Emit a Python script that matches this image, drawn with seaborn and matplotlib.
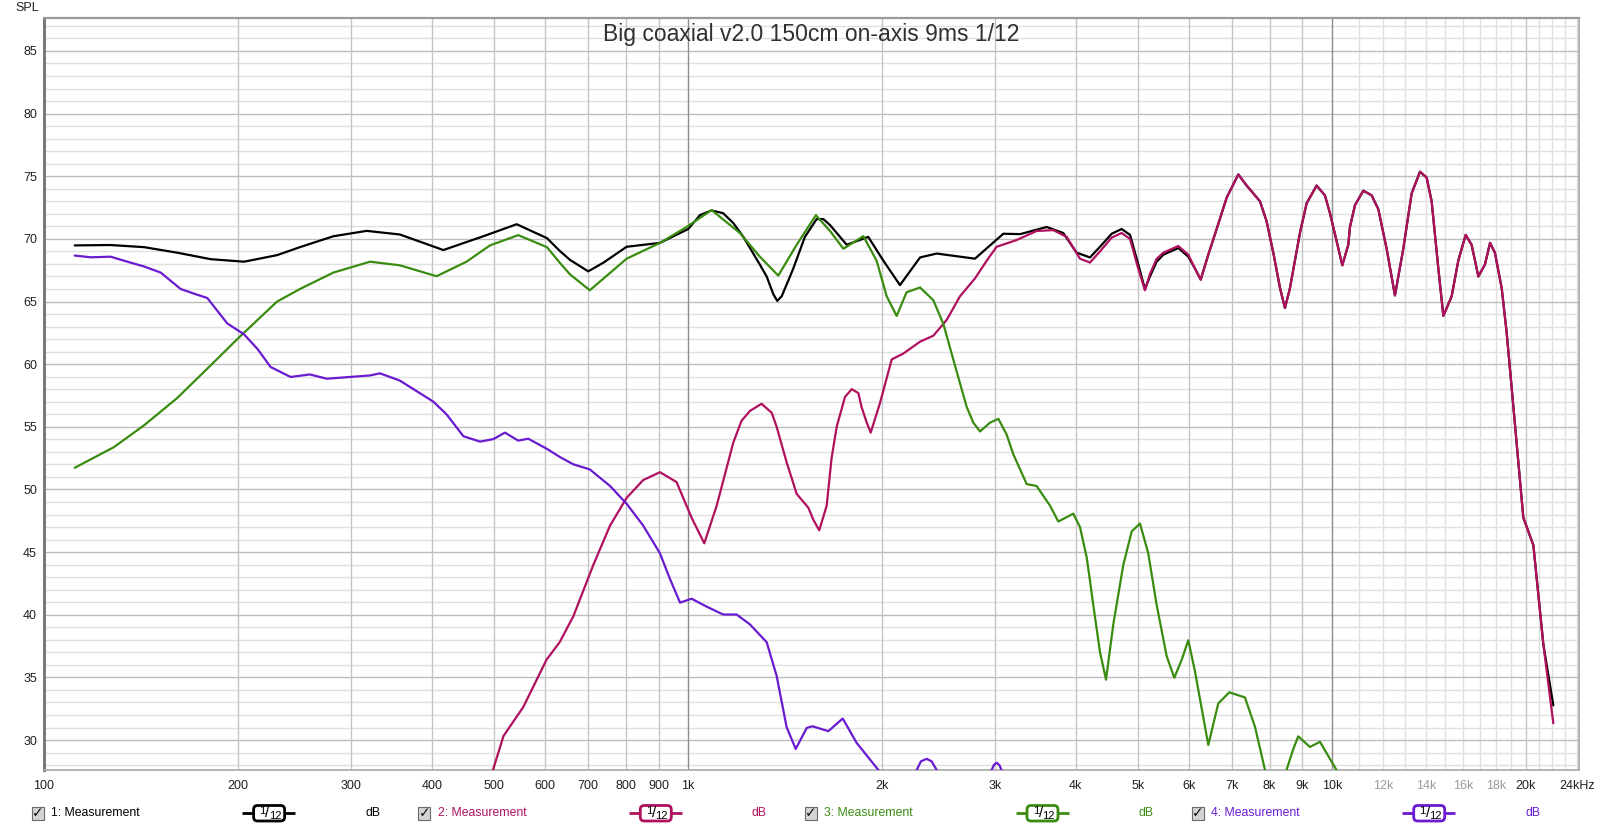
import matplotlib
matplotlib.use("Agg")
import matplotlib.pyplot as plt
import seaborn as sns
import pandas as pd
from matplotlib.patches import Rectangle, FancyBboxPatch

TITLE = "Big coaxial v2.0 150cm on-axis 9ms 1/12"
Y_LABEL = "SPL"
SERIES_NAMES = ["1: Measurement", "2: Measurement", "3: Measurement", "4: Measurement"]
SERIES_COLORS = ["#000000", "#B0105E", "#3A8C10", "#6A1AD0"]
UNIT = "dB"

F1 = [111.6, 126.9, 143, 161, 181.5, 204.5, 230, 249.7, 281.4, 317, 357, 417, 481, 542, 604, 632, 656, 700,
      739, 803, 904.6, 1001, 1044, 1088, 1134, 1176, 1219, 1293, 1325, 1357, 1376, 1398, 1432, 1457, 1519,
      1584, 1623, 1662, 1764, 1905, 2011, 2134, 2293, 2434, 2645, 2790, 3088, 3279, 3606, 3826, 4013, 4210,
      4363, 4549, 4714, 4858, 5004, 5124, 5217, 5342, 5472, 5773, 5983, 6129, 6254, 6427, 6622, 6864, 7155,
      7371, 7731, 7915, 8108, 8307, 8453, 8605, 8918, 9135, 9467, 9752, 9929, 10167, 10377, 10602, 10665,
      10857, 11186, 11526, 11803, 12160, 12526, 12906, 13297, 13701, 14030, 14282, 14629, 14894, 15342,
      15710, 16131, 16476, 16880, 17281, 17600, 17908, 18349, 18672, 19010, 19824, 20548, 21294, 22068]
L1 = [69.48, 69.51, 69.34, 68.9, 68.38, 68.18, 68.7, 69.34, 70.21, 70.64, 70.35, 69.11, 70.21, 71.17, 70.06,
      69.05, 68.32, 67.41, 68.1, 69.37, 69.68, 70.79, 71.9, 72.27, 72.05, 71.26, 70.16, 67.95, 67.0, 65.58,
      65.05, 65.42, 66.69, 67.63, 70.16, 71.58, 71.58, 71.1, 69.53, 70.16, 68.26, 66.31, 68.52, 68.83, 68.58,
      68.42, 70.41, 70.38, 70.95, 70.47, 68.9, 68.52, 69.37, 70.41, 70.79, 70.32, 67.95, 65.99, 67.0, 68.17,
      68.74, 69.27, 68.58, 67.63, 66.75, 68.74, 70.79, 73.3, 75.14, 74.26, 73.0, 71.42, 68.9, 66.06, 64.48,
      66.06, 70.47, 72.84, 74.26, 73.47, 72.05, 69.84, 67.89, 69.53, 70.95, 72.68, 73.85, 73.47, 72.37, 69.21,
      65.49, 69.21, 73.63, 75.36, 74.89, 73.0, 67.63, 63.85, 65.42, 68.26, 70.32, 69.53, 67.0, 67.95, 69.68,
      68.9, 66.06, 62.58, 58.17, 47.75, 45.55, 37.65, 32.77]

F2 = [497.4, 517, 555, 603, 632, 663.6, 712.8, 756.8, 803, 852, 904.6, 960, 1013, 1060, 1108, 1176, 1211,
      1248, 1301, 1349, 1373, 1423, 1475, 1538, 1565, 1599, 1642, 1671, 1702, 1753, 1796, 1839, 1860, 1895,
      1922, 1952, 1987, 2072, 2160, 2293, 2404, 2522, 2645, 2790, 2910, 3015, 3239, 3478, 3692, 3873, 4062,
      4210, 4363, 4549, 4714, 4858, 5004, 5124, 5217, 5342, 5472, 5773, 5983, 6129, 6254, 6427, 6622, 6864,
      7155, 7371, 7731, 7915, 8108, 8307, 8453, 8605, 8918, 9135, 9467, 9752, 9929, 10167, 10377, 10602,
      10665, 10857, 11186, 11526, 11803, 12160, 12526, 12906, 13297, 13701, 14030, 14282, 14629, 14894,
      15342, 15710, 16131, 16476, 16880, 17281, 17600, 17908, 18349, 18672, 19010, 19824, 20548, 21294,
      22068]
L2 = [27.53, 30.32, 32.64, 36.41, 37.81, 39.87, 43.97, 47.12, 49.33, 50.75, 51.38, 50.59, 47.75, 45.7, 48.7,
      53.75, 55.48, 56.27, 56.84, 56.12, 55.01, 52.17, 49.65, 48.54, 47.6, 46.74, 48.7, 52.49, 55.01, 57.38,
      58.01, 57.69, 56.59, 55.33, 54.54, 55.64, 56.9, 60.38, 60.85, 61.8, 62.27, 63.53, 65.42, 66.84, 68.26,
      69.37, 69.91, 70.63, 70.7, 70.16, 68.42, 68.11, 69.0, 70.1, 70.47, 70.0, 67.6, 65.9, 67.2, 68.4, 68.9,
      69.43, 68.74, 67.63, 66.75, 68.74, 70.79, 73.3, 75.14, 74.26, 73.0, 71.42, 68.9, 66.06, 64.48, 66.06,
      70.47, 72.84, 74.26, 73.47, 72.05, 69.84, 67.89, 69.53, 70.95, 72.68, 73.85, 73.47, 72.37, 69.21, 65.49,
      69.21, 73.63, 75.36, 74.89, 73.0, 67.63, 63.85, 65.42, 68.26, 70.32, 69.53, 67.0, 67.95, 69.68, 68.9,
      66.06, 62.58, 58.17, 47.75, 45.55, 37.65, 31.34]

F3 = [111.6, 128.4, 143, 161, 181.5, 200.4, 230, 249.7, 281.4, 320.8, 357, 407, 453, 492.6, 545, 604, 632,
      656, 704, 803, 904.6, 995, 1088, 1204, 1293, 1381, 1475, 1580, 1662, 1743, 1872, 1963, 2035, 2109, 2185,
      2293, 2404, 2492, 2582, 2709, 2774, 2841, 2944, 3034, 3125, 3201, 3357, 3478, 3650, 3759, 3966, 4062,
      4160, 4210, 4259, 4363, 4458, 4576, 4742, 4887, 5034, 5185, 5342, 5537, 5691, 5842, 5983, 6129, 6427,
      6660, 6928, 7327, 7597, 7870, 8180, 8502, 8710, 8865, 9243, 9581, 10167, 10500]
L3 = [51.73, 53.38, 55.12, 57.3, 59.91, 62.09, 64.99, 66.0, 67.31, 68.18, 67.89, 67.02, 68.18, 69.48, 70.3,
      69.34, 68.11, 67.16, 65.9, 68.42, 69.68, 70.95, 72.3, 70.47, 68.58, 67.07, 69.53, 71.89, 70.63, 69.21,
      70.22, 68.26, 65.42, 63.85, 65.74, 66.12, 65.11, 63.22, 60.38, 56.59, 55.33, 54.63, 55.33, 55.64, 54.38,
      52.8, 50.43, 50.28, 48.7, 47.44, 48.07, 47.0, 44.6, 42.7, 40.81, 37.02, 34.82, 39.23, 43.97, 46.65,
      47.28, 44.91, 40.81, 36.71, 34.97, 36.39, 37.97, 35.45, 29.61, 32.92, 33.81, 33.4, 31.03, 27.62, 24.5,
      27.62, 29.29, 30.3, 29.45, 29.86, 27.6, 25.0]

F4 = [111.6, 118.2, 126.9, 134.7, 143, 151.8, 163, 171, 179.3, 192.6, 204.5, 214.5, 224.9, 241.5, 258.8,
      274.8, 298.6, 320.8, 332.4, 357, 402.3, 421.9, 448, 475.4, 498.6, 519.8, 545, 565, 604, 632, 663.6, 704,
      756.8, 803, 852, 904.6, 937.6, 972, 1013, 1069, 1134, 1190, 1248, 1325, 1373, 1423, 1470, 1529, 1560,
      1652, 1739, 1828, 1975, 2100, 2265, 2300, 2348, 2390, 2434, 2600, 2962, 2985, 3015, 3045, 3069, 3200]
L4 = [68.67, 68.53, 68.58, 68.18, 67.8, 67.31, 66.0, 65.63, 65.28, 63.25, 62.38, 61.22, 59.77, 58.98, 59.18,
      58.84, 58.98, 59.1, 59.27, 58.69, 57.01, 55.99, 54.25, 53.82, 54.02, 54.54, 53.9, 54.05, 53.24, 52.6,
      52.01, 51.6, 50.28, 48.86, 47.12, 44.91, 42.86, 40.97, 41.28, 40.65, 40.02, 40.02, 39.23, 37.81, 35.13,
      31.03, 29.29, 30.97, 31.1, 30.71, 31.72, 29.77, 27.62, 26.0, 27.6, 28.3, 28.5, 28.3, 27.6, 26.0, 27.6,
      28.0, 28.19, 28.0, 27.6, 26.0]

X_TICKS = [100, 200, 300, 400, 500, 600, 700, 800, 900, 1000, 2000, 3000, 4000, 5000, 6000, 7000, 8000,
           9000, 10000, 12000, 14000, 16000, 18000, 20000, 24000]
X_TICK_LABELS = ["100", "200", "300", "400", "500", "600", "700", "800", "900", "1k", "2k", "3k", "4k", "5k",
                 "6k", "7k", "8k", "9k", "10k", "12k", "14k", "16k", "18k", "20k", "24kHz"]
MINOR_LABELS = ["12k", "14k", "16k", "18k"]
GRID_MID = [100, 200, 300, 400, 500, 600, 700, 800, 900, 2000, 3000, 4000, 5000, 6000, 7000, 8000, 9000, 20000]
GRID_DARK = [1000, 10000]
GRID_LIGHT = [11000, 12000, 13000, 14000, 15000, 16000, 17000, 18000, 19000, 21000, 22000, 23000, 24000]
Y_TICKS = [30, 35, 40, 45, 50, 55, 60, 65, 70, 75, 80, 85]
Y_MINOR = list(range(28, 88))

sns.set_style("white")
plt.rcParams["font.family"] = ["Liberation Sans", "DejaVu Sans"]

W, H = 1600, 827
fig = plt.figure(figsize=(W / 100, H / 100), dpi=100)
fig.patch.set_facecolor("white")
ax = fig.add_axes([44 / W, 1 - 770 / H, (1579 - 44) / W, (770 - 18) / H])

ax.set_xscale("log")
ax.set_xlim(100, 24190)
ax.set_ylim(27.61, 87.63)

ax.set_yticks(Y_TICKS)
ax.set_yticks(Y_MINOR, minor=True)
ax.grid(False)
ax.grid(which="major", axis="y", color="#bdbdbd", lw=1.0, zorder=0)
ax.grid(which="minor", axis="y", color="#e0e0e0", lw=1.0, zorder=0)
for f in GRID_LIGHT:
    ax.axvline(f, color="#e0e0e0", lw=1.0, zorder=0.5)
for f in GRID_MID:
    ax.axvline(f, color="#c4c4c4", lw=1.0, zorder=0.6)
for f in GRID_DARK:
    ax.axvline(f, color="#8c8c8c", lw=1.0, zorder=0.7)

ax.set_xticks(X_TICKS)
ax.set_xticklabels(X_TICK_LABELS)
ax.xaxis.set_minor_locator(matplotlib.ticker.NullLocator())
ax.tick_params(axis="both", which="both", length=0, labelsize=9, colors="#202020")
ax.tick_params(axis="x", pad=7)
ax.tick_params(axis="y", pad=5)
for lbl in ax.get_xticklabels():
    if lbl.get_text() in MINOR_LABELS:
        lbl.set_color("#9a9a9a")

for sp in ax.spines.values():
    sp.set_color("#a8a8a8")
    sp.set_linewidth(1.2)
ax.spines["left"].set_color("#7a7a7a")
ax.spines["left"].set_linewidth(2.2)
ax.spines["top"].set_color("#9a9a9a")
ax.spines["top"].set_linewidth(1.6)

series = [(F1, L1), (F2, L2), (F3, L3), (F4, L4)]
for (fx, ly), col in zip(series, SERIES_COLORS):
    df = pd.DataFrame({"f": fx, "db": ly})
    sns.lineplot(data=df, x="f", y="db", ax=ax, color=col, lw=1.6, sort=False,
                 estimator=None, zorder=3)
ax.set_xlabel("")
ax.set_ylabel("")

# overlay in pixel coordinates
ov = fig.add_axes([0, 0, 1, 1], zorder=10)
ov.set_xlim(0, W)
ov.set_ylim(H, 0)
ov.axis("off")
ov.patch.set_alpha(0)

ov.text(811, 34, TITLE, ha="center", va="center", fontsize=16.5, color="#303030")
ov.text(27.5, 8, Y_LABEL, ha="center", va="center", fontsize=9, color="#202020")

ly0 = 813
for i, (name, col) in enumerate(zip(SERIES_NAMES, SERIES_COLORS)):
    base = 31.6 + 386.7 * i
    ov.add_patch(Rectangle((base, 806.5), 12, 13, facecolor="#d4d4d4", edgecolor="#6a6a6a", lw=0.8))
    ov.text(base + 6, ly0 + 0.5, "\u2713", ha="center", va="center", fontsize=10,
            color="#101010", family="DejaVu Sans", fontweight="bold")
    ov.text(base + 19.5, ly0, name, ha="left", va="center", fontsize=8.8, color=col)
    lx0 = base + 210.5
    ov.plot([lx0, lx0 + 53], [ly0, ly0], color=col, lw=2, solid_capstyle="butt")
    cx = lx0 + 27
    ov.add_patch(FancyBboxPatch((cx - 15.5, 805.5), 31, 15.5, boxstyle="round,pad=0,rounding_size=4",
                                facecolor="white", edgecolor=col, lw=2, zorder=11))
    ov.text(cx - 6.5, ly0 - 2.5, "1", ha="center", va="center", fontsize=8, color="#000000", zorder=12)
    ov.text(cx - 1.5, ly0, "/", ha="center", va="center", fontsize=11, color="#000000", zorder=12)
    ov.text(cx + 6, ly0 + 3, "12", ha="center", va="center", fontsize=8, color="#000000", zorder=12)
    ov.text(base + 341, ly0, UNIT, ha="center", va="center", fontsize=8.8, color=col)

fig.savefig("out.png", dpi=100, facecolor="white")
